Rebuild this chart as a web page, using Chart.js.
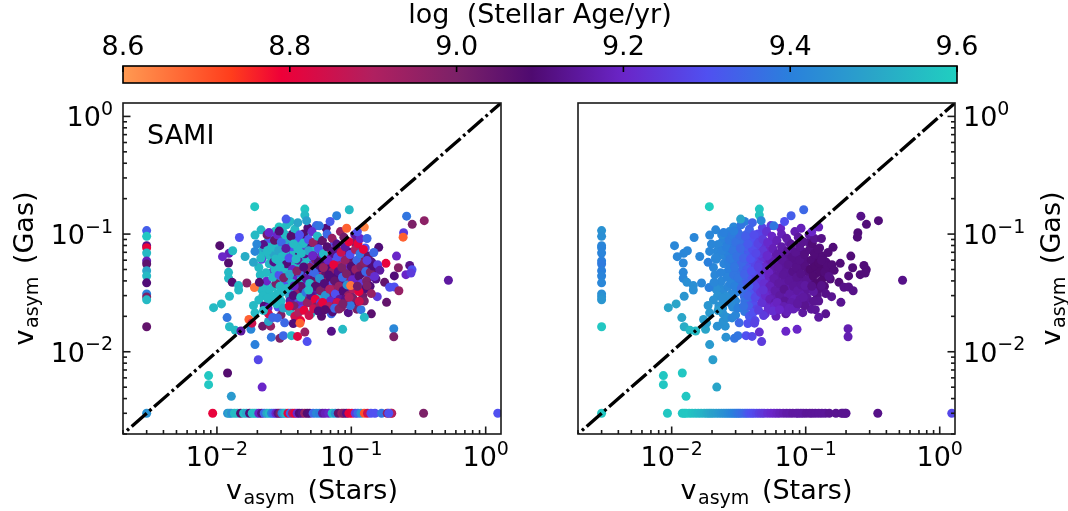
<!DOCTYPE html>
<html>
<head>
<meta charset="utf-8">
<title>vasym stars vs gas</title>
<script src="https://cdn.jsdelivr.net/npm/chart.js@4"></script>
<style>
html, body { margin: 0; padding: 0; background: #fff; }
canvas { position: absolute; }
</style>
</head>
<body>
<canvas id="cbar" width="1068" height="95" style="left:0;top:0"></canvas>
<canvas id="panel_a" width="534" height="421" style="left:0;top:90px"></canvas>
<canvas id="panel_b" width="534" height="421" style="left:534px;top:90px"></canvas>
<script>
// galaxies with no measured stellar asymmetry (left column)
var columnStars = [0.003, 0.003, 0.003, 0.003, 0.003, 0.003, 0.003, 0.003, 0.003, 0.003, 0.003, 0.003, 0.003, 0.003, 0.003];
var columnGas = [0.107, 0.0957, 0.0796, 0.0766, 0.069, 0.059, 0.0557, 0.0489, 0.044, 0.0385, 0.031, 0.0292, 0.0276, 0.0163, 0.003];
var columnAgeObs = [9.33, 9.58, 9.12, 8.8, 9.55, 9.18, 9.06, 9.5, 9.55, 9.1, 9.4, 9.0, 9.55, 9.05, 9.45];
var columnAgeFit = [9.45, 9.44, 9.42, 9.41, 9.41, 9.4, 9.39, 9.4, 9.41, 9.42, 9.44, 9.45, 9.46, 9.58, 9.58];

// dense middle of the cloud
var coreStars = [
    0.0218, 0.0228, 0.0243, 0.0252, 0.0258, 0.0263, 0.0272, 0.0278, 0.0284, 0.0291,
    0.0297, 0.0302, 0.0308, 0.0312, 0.0318, 0.0323, 0.0329, 0.0335, 0.0341, 0.0347,
    0.0352, 0.0358, 0.0363, 0.0369, 0.0374, 0.0379, 0.0385, 0.0391, 0.0396, 0.0403,
    0.0408, 0.0414, 0.0421, 0.0426, 0.0433, 0.0439, 0.0446, 0.0452, 0.0458, 0.0464,
    0.0471, 0.0478, 0.0484, 0.0491, 0.0497, 0.0505, 0.0512, 0.0519, 0.0527, 0.0534,
    0.0542, 0.0551, 0.0558, 0.0567, 0.0574, 0.0582, 0.0591, 0.0602, 0.0609, 0.0618,
    0.0627, 0.0635, 0.0644, 0.0652, 0.0664, 0.0672, 0.0684, 0.0695, 0.0706, 0.0715,
    0.0728, 0.0742, 0.0756, 0.0769, 0.0782, 0.0797, 0.0812, 0.0826, 0.0841, 0.0858,
    0.0872, 0.0889, 0.0905, 0.0922, 0.0941, 0.0958, 0.0976, 0.0992, 0.101, 0.1035,
    0.106, 0.108, 0.111, 0.113, 0.115, 0.119, 0.121, 0.124, 0.127, 0.133,
    0.136, 0.142, 0.148, 0.075, 0.065, 0.055, 0.035, 0.031, 0.027, 0.048
];
var coreGas = [
    0.0715, 0.0375, 0.0332, 0.0645, 0.0473, 0.0358, 0.0295, 0.0842, 0.0538, 0.0668,
    0.0412, 0.0318, 0.0775, 0.0592, 0.0475, 0.0381, 0.0923, 0.0685, 0.0508, 0.0298,
    0.0872, 0.0562, 0.0435, 0.0343, 0.0705, 0.0266, 0.0528, 0.0408, 0.0318, 0.0865,
    0.0655, 0.0252, 0.0532, 0.0415, 0.0762, 0.0338, 0.0612, 0.0476, 0.0905, 0.0285,
    0.0382, 0.0628, 0.0448, 0.0795, 0.0345, 0.0258, 0.0548, 0.0412, 0.0722, 0.0318,
    0.0605, 0.0462, 0.0372, 0.0845, 0.0285, 0.0518, 0.0392, 0.0675, 0.0438, 0.0328,
    0.0582, 0.0258, 0.0458, 0.0352, 0.0702, 0.0525, 0.0295, 0.0412, 0.0625, 0.0368,
    0.0478, 0.0268, 0.0582, 0.0352, 0.0438, 0.0718, 0.0305, 0.0562, 0.0392, 0.0632,
    0.0468, 0.0278, 0.0352, 0.0538, 0.0422, 0.0705, 0.0318, 0.0602, 0.0382, 0.0478,
    0.0852, 0.0342, 0.0425, 0.0725, 0.0572, 0.0462, 0.0655, 0.0348, 0.0762, 0.0502,
    0.0428, 0.0578, 0.0488, 0.0845, 0.112, 0.118, 0.128, 0.092, 0.105, 0.102
];
var coreAgeObs = [
    9.55, 9.55, 9.55, 9.55, 9.2, 9.55, 9.5, 9.55, 9.55, 9.15,
    9.5, 9.55, 9.55, 9.55, 9.55, 9.3, 9.55, 9.2, 9.55, 9.5,
    9.55, 9.5, 9.12, 9.55, 9.55, 9.3, 9.55, 9.2, 8.95, 9.55,
    9.1, 9.2, 9.55, 9.55, 9.25, 9.12, 9.5, 9.1, 9.55, 9.0,
    9.2, 9.55, 9.3, 9.12, 9.1, 8.85, 9.25, 9.05, 9.55, 9.15,
    9.0, 9.3, 8.95, 9.1, 9.55, 9.1, 9.12, 9.2, 8.9, 9.05,
    9.12, 9.35, 9.05, 9.12, 8.85, 9.1, 9.0, 9.08, 9.12, 9.3,
    8.95, 9.12, 9.35, 8.95, 9.1, 9.05, 9.1, 8.9, 9.12, 9.25,
    9.0, 9.05, 9.1, 9.2, 8.95, 9.1, 9.15, 9.05, 8.95, 9.1,
    9.0, 9.12, 9.2, 9.1, 9.02, 9.1, 9.0, 9.1, 9.3, 9.1,
    9.25, 9.12, 9.08, 9.3, 9.1, 9.35, 9.55, 9.55, 9.55, 9.55
];
var coreAgeFit = [
    9.42, 9.43, 9.43, 9.41, 9.41, 9.42, 9.43, 9.39, 9.39, 9.38,
    9.39, 9.4, 9.37, 9.37, 9.37, 9.37, 9.36, 9.35, 9.35, 9.36,
    9.34, 9.34, 9.33, 9.34, 9.32, 9.34, 9.31, 9.31, 9.31, 9.3,
    9.29, 9.29, 9.28, 9.27, 9.27, 9.26, 9.26, 9.25, 9.26, 9.24,
    9.23, 9.23, 9.22, 9.23, 9.21, 9.21, 9.2, 9.19, 9.2, 9.19,
    9.18, 9.17, 9.17, 9.19, 9.17, 9.16, 9.16, 9.16, 9.15, 9.15,
    9.15, 9.17, 9.15, 9.16, 9.15, 9.14, 9.17, 9.15, 9.13, 9.15,
    9.14, 9.18, 9.13, 9.16, 9.14, 9.14, 9.17, 9.12, 9.14, 9.12,
    9.12, 9.17, 9.15, 9.11, 9.13, 9.12, 9.15, 9.11, 9.14, 9.11,
    9.12, 9.14, 9.11, 9.1, 9.09, 9.1, 9.1, 9.12, 9.11, 9.09,
    9.09, 9.1, 9.1, 9.16, 9.2, 9.25, 9.4, 9.38, 9.42, 9.26
];

// rest of the cloud
var cloudStars = [
    0.0205, 0.021, 0.0215, 0.022, 0.0225, 0.023, 0.0235, 0.024, 0.0245, 0.025,
    0.0205, 0.0225, 0.024, 0.0215, 0.0232, 0.0255, 0.026, 0.0265, 0.027, 0.0275,
    0.028, 0.0285, 0.026, 0.029, 0.0295, 0.0265, 0.027, 0.028, 0.0285, 0.029,
    0.0295, 0.03, 0.03, 0.031, 0.032, 0.032, 0.033, 0.034, 0.034, 0.035,
    0.035, 0.036, 0.036, 0.036, 0.0365, 0.0365, 0.037, 0.0375, 0.038, 0.033,
    0.038, 0.039, 0.04, 0.04, 0.041, 0.042, 0.042, 0.043, 0.044, 0.044,
    0.045, 0.045, 0.046, 0.046, 0.047, 0.0475, 0.048, 0.048, 0.049, 0.049,
    0.05, 0.05, 0.04, 0.051, 0.052, 0.052, 0.053, 0.054, 0.054, 0.055,
    0.056, 0.057, 0.057, 0.058, 0.059, 0.059, 0.06, 0.061, 0.062, 0.062,
    0.063, 0.064, 0.065, 0.066, 0.066, 0.067, 0.068, 0.069, 0.07, 0.071,
    0.072, 0.073, 0.074, 0.075, 0.076, 0.077, 0.078, 0.079, 0.08, 0.081,
    0.082, 0.083, 0.084, 0.085, 0.086, 0.087, 0.088, 0.09, 0.09, 0.092,
    0.093, 0.095, 0.096, 0.098, 0.1, 0.102, 0.103, 0.104, 0.106, 0.107,
    0.108, 0.11, 0.112, 0.114, 0.116, 0.118, 0.12, 0.122, 0.125, 0.128,
    0.13, 0.134, 0.138, 0.125, 0.11, 0.095, 0.118
];
var cloudGas = [
    0.052, 0.045, 0.034, 0.03, 0.076, 0.066, 0.04, 0.087, 0.056, 0.027,
    0.0275, 0.0245, 0.0235, 0.061, 0.047, 0.1, 0.082, 0.068, 0.05, 0.038,
    0.031, 0.024, 0.043, 0.115, 0.09, 0.058, 0.094, 0.075, 0.06, 0.045,
    0.036, 0.027, 0.0205, 0.105, 0.085, 0.07, 0.056, 0.042, 0.034, 0.027,
    0.022, 0.099, 0.078, 0.063, 0.05, 0.038, 0.03, 0.0245, 0.02, 0.12,
    0.11, 0.092, 0.075, 0.06, 0.047, 0.036, 0.029, 0.023, 0.1, 0.083,
    0.068, 0.055, 0.042, 0.032, 0.026, 0.113, 0.09, 0.072, 0.052, 0.038,
    0.03, 0.021, 0.125, 0.105, 0.085, 0.065, 0.047, 0.036, 0.028, 0.024,
    0.096, 0.075, 0.058, 0.042, 0.033, 0.026, 0.02, 0.088, 0.068, 0.052,
    0.038, 0.03, 0.024, 0.1, 0.078, 0.06, 0.045, 0.034, 0.027, 0.021,
    0.092, 0.072, 0.055, 0.04, 0.031, 0.025, 0.082, 0.064, 0.048, 0.036,
    0.028, 0.105, 0.07, 0.052, 0.043, 0.033, 0.094, 0.078, 0.06, 0.046,
    0.037, 0.03, 0.086, 0.067, 0.053, 0.041, 0.034, 0.027, 0.099, 0.074,
    0.05, 0.06, 0.083, 0.044, 0.068, 0.053, 0.038, 0.03, 0.057, 0.048,
    0.04, 0.065, 0.036, 0.027, 0.023, 0.0215, 0.0228
];
var cloudAgeObs = [
    9.55, 9.55, 9.55, 9.55, 9.5, 9.55, 9.2, 9.55, 9.55, 9.55,
    9.55, 9.1, 9.2, 9.25, 9.55, 9.55, 9.55, 9.5, 9.55, 9.0,
    9.55, 9.3, 9.55, 9.58, 8.95, 9.12, 9.45, 9.55, 9.55, 9.3,
    9.55, 9.55, 9.0, 9.55, 9.5, 9.55, 9.1, 9.5, 9.4, 9.15,
    9.55, 9.1, 9.3, 9.55, 9.2, 9.55, 9.1, 9.0, 8.85, 9.55,
    9.55, 9.3, 9.55, 9.15, 9.35, 9.05, 9.55, 9.25, 9.08, 9.55,
    9.12, 9.55, 9.15, 9.38, 8.95, 9.1, 9.3, 9.5, 8.98, 9.55,
    9.12, 9.55, 9.5, 9.22, 8.95, 9.12, 9.35, 9.08, 8.8, 9.0,
    9.55, 9.3, 9.1, 9.45, 9.0, 9.25, 9.08, 9.05, 9.55, 8.95,
    9.1, 9.45, 9.55, 9.35, 9.08, 9.2, 9.1, 8.9, 9.2, 9.35,
    8.95, 9.12, 8.8, 9.05, 9.3, 9.0, 9.12, 9.3, 9.12, 8.95,
    9.15, 8.95, 8.85, 9.0, 9.35, 9.1, 9.02, 9.15, 8.95, 9.0,
    9.45, 8.95, 8.8, 9.3, 9.08, 9.2, 8.9, 9.05, 9.15, 8.9,
    8.95, 9.35, 8.8, 9.08, 9.38, 9.0, 9.25, 9.02, 8.98, 9.35,
    9.0, 9.05, 9.1, 9.0, 9.0, 9.12, 9.38
];
var cloudAgeFit = [
    9.42, 9.42, 9.44, 9.45, 9.42, 9.42, 9.42, 9.42, 9.41, 9.44,
    9.45, 9.45, 9.45, 9.42, 9.41, 9.4, 9.4, 9.4, 9.4, 9.41,
    9.42, 9.43, 9.41, 9.42, 9.38, 9.4, 9.4, 9.38, 9.38, 9.38,
    9.4, 9.42, 9.42, 9.37, 9.36, 9.36, 9.35, 9.35, 9.36, 9.37,
    9.38, 9.34, 9.33, 9.33, 9.33, 9.33, 9.34, 9.33, 9.32, 9.38,
    9.34, 9.3, 9.29, 9.28, 9.28, 9.27, 9.28, 9.27, 9.28, 9.27,
    9.25, 9.25, 9.24, 9.24, 9.23, 9.27, 9.25, 9.24, 9.22, 9.22,
    9.21, 9.22, 9.34, 9.23, 9.21, 9.2, 9.19, 9.18, 9.18, 9.19,
    9.2, 9.18, 9.17, 9.16, 9.16, 9.16, 9.18, 9.18, 9.16, 9.15,
    9.15, 9.15, 9.15, 9.18, 9.16, 9.14, 9.14, 9.13, 9.14, 9.15,
    9.16, 9.14, 9.13, 9.14, 9.16, 9.17, 9.14, 9.12, 9.12, 9.14,
    9.17, 9.17, 9.13, 9.12, 9.13, 9.15, 9.15, 9.13, 9.12, 9.12,
    9.14, 9.16, 9.13, 9.11, 9.11, 9.13, 9.14, 9.16, 9.15, 9.11,
    9.09, 9.1, 9.1, 9.09, 9.1, 9.09, 9.09, 9.12, 9.09, 9.09,
    9.09, 9.1, 9.1, 9.13, 9.14, 9.15, 9.14
];

// more of the cloud: the left side and the underside
var fillStars = [
    0.0212, 0.0222, 0.0238, 0.0248, 0.0256, 0.0268, 0.0274, 0.0282, 0.0288, 0.0294,
    0.0301, 0.0306, 0.0314, 0.0322, 0.0326, 0.0331, 0.0344, 0.0349, 0.0356, 0.0372,
    0.0376, 0.0388, 0.0394, 0.0412, 0.0425, 0.0442, 0.0482, 0.0515, 0.0255, 0.0238,
    0.0278, 0.0312, 0.0345, 0.0405, 0.0445, 0.0525, 0.0585, 0.0612, 0.0685, 0.0725,
    0.0785, 0.0845, 0.0905, 0.1025, 0.1145, 0.1285, 0.1385, 0.1455, 0.1525, 0.1165
];
var fillGas = [
    0.0625, 0.0815, 0.0725, 0.0915, 0.0775, 0.0885, 0.0615, 0.0985, 0.0725, 0.0525,
    0.0855, 0.0645, 0.0425, 0.0985, 0.0755, 0.0345, 0.0625, 0.0455, 0.0955, 0.0825,
    0.0362, 0.0615, 0.0485, 0.0985, 0.0685, 0.0525, 0.0335, 0.0655, 0.0295, 0.0285,
    0.0255, 0.0235, 0.0245, 0.0215, 0.0225, 0.0232, 0.0245, 0.0262, 0.0242, 0.0218,
    0.0262, 0.0238, 0.0278, 0.0288, 0.0268, 0.0345, 0.0475, 0.0535, 0.0415, 0.0915
];
var fillAgeObs = [
    9.55, 9.12, 9.55, 9.3, 9.55, 9.05, 9.55, 9.2, 9.5, 9.55,
    9.35, 9.55, 9.0, 9.55, 9.15, 9.55, 9.3, 9.5, 9.08, 9.55,
    9.2, 9.55, 8.98, 9.3, 9.55, 9.1, 9.55, 9.2, 9.55, 9.55,
    9.55, 9.5, 8.8, 8.9, 8.8, 8.85, 8.95, 8.8, 8.9, 9.1,
    8.85, 9.0, 9.12, 9.0, 8.85, 9.1, 9.0, 9.1, 9.12, 9.2
];
var fillAgeFit = [
    9.42, 9.42, 9.41, 9.41, 9.4, 9.39, 9.39, 9.39, 9.38, 9.38,
    9.37, 9.37, 9.38, 9.36, 9.35, 9.36, 9.34, 9.34, 9.33, 9.32,
    9.33, 9.3, 9.3, 9.29, 9.28, 9.26, 9.23, 9.21, 9.44, 9.44,
    9.43, 9.4, 9.37, 9.3, 9.26, 9.22, 9.2, 9.19, 9.17, 9.18,
    9.16, 9.17, 9.15, 9.14, 9.13, 9.11, 9.1, 9.1, 9.1, 9.13
];

// sparse points around the cloud
var outerStars = [
    0.0191, 0.0327, 0.0451, 0.0451, 0.0465, 0.0147, 0.0105, 0.0123, 0.0131, 0.011,
    0.0122, 0.0122, 0.0122, 0.013, 0.0145, 0.0145, 0.0124, 0.0108, 0.00944, 0.0119,
    0.0124, 0.0137, 0.0151, 0.0179, 0.0192, 0.0173, 0.0182, 0.019, 0.0162, 0.0187,
    0.0192, 0.0198, 0.0192, 0.0213, 0.0236, 0.0244, 0.0291, 0.0167, 0.0207, 0.0254,
    0.0294, 0.0312, 0.0359, 0.0398, 0.0451, 0.0469, 0.0319, 0.037, 0.0419, 0.0415,
    0.0485, 0.0569, 0.0638, 0.0752, 0.0809, 0.0944, 0.0984, 0.0867, 0.0962, 0.0219,
    0.0251, 0.0242, 0.0242, 0.026, 0.0282, 0.0192, 0.0222, 0.0187, 0.0778, 0.0966,
    0.0695, 0.0579, 0.258, 0.284, 0.349, 0.245, 0.243, 0.0923, 0.125, 0.111,
    0.131, 0.16, 0.123, 0.147, 0.217, 0.181, 0.131, 0.157, 0.224, 0.272,
    0.283, 0.255, 0.278, 0.209, 0.163, 0.149, 0.528, 0.177, 0.193, 0.209,
    0.226, 0.156, 0.183, 0.141, 0.114, 0.0989, 0.111, 0.131, 0.141, 0.125,
    0.207, 0.207, 0.0862, 0.0711
];
var outerGas = [
    0.171, 0.134, 0.163, 0.145, 0.13, 0.0935, 0.0797, 0.0686, 0.0721, 0.0643,
    0.0568, 0.0473, 0.0421, 0.0389, 0.0365, 0.0335, 0.0296, 0.0255, 0.0237, 0.0195,
    0.0163, 0.0152, 0.015, 0.0155, 0.0115, 0.0188, 0.0175, 0.0351, 0.0645, 0.0575,
    0.0712, 0.0822, 0.098, 0.1086, 0.0986, 0.103, 0.106, 0.0384, 0.0389, 0.0133,
    0.013, 0.0137, 0.0137, 0.0135, 0.0147, 0.0122, 0.0176, 0.0174, 0.0184, 0.0175,
    0.0203, 0.0222, 0.0228, 0.0234, 0.0231, 0.0255, 0.0247, 0.0256, 0.029, 0.0165,
    0.0165, 0.0181, 0.021, 0.0195, 0.0194, 0.0214, 0.0224, 0.0247, 0.143, 0.161,
    0.128, 0.1175, 0.142, 0.121, 0.13, 0.1026, 0.0942, 0.112, 0.1146, 0.1045,
    0.0918, 0.0771, 0.0741, 0.0698, 0.065, 0.0564, 0.0597, 0.055, 0.0518, 0.0542,
    0.0498, 0.0452, 0.0467, 0.0441, 0.0492, 0.0437, 0.0405, 0.0389, 0.0353, 0.0355,
    0.033, 0.0294, 0.0263, 0.0312, 0.0324, 0.0365, 0.036, 0.0365, 0.021, 0.0196,
    0.0157, 0.0134, 0.0155, 0.0149
];
var outerAgeObs = [
    9.58, 9.32, 9.58, 9.55, 9.48, 9.3, 9.08, 9.18, 9.55, 9.2,
    9.08, 9.55, 9.55, 9.08, 9.55, 9.55, 9.55, 9.55, 9.55, 9.38,
    9.55, 9.55, 9.15, 9.42, 9.4, 8.68, 8.85, 8.65, 9.52, 9.5,
    9.42, 9.42, 9.55, 9.55, 9.02, 9.2, 9.1, 8.98, 9.08, 9.38,
    9.0, 9.35, 9.55, 8.82, 8.95, 9.3, 9.35, 9.1, 8.8, 8.68,
    8.85, 9.1, 9.08, 9.35, 8.98, 8.98, 9.38, 9.0, 8.9, 9.03,
    8.95, 9.5, 8.85, 9.35, 9.35, 9.55, 9.55, 9.55, 9.4, 9.55,
    9.32, 9.38, 9.38, 9.0, 8.97, 9.25, 8.68, 8.68, 8.63, 9.3,
    9.35, 9.1, 8.8, 9.35, 9.2, 8.8, 9.26, 9.26, 8.98, 9.12,
    9.3, 9.2, 9.25, 9.1, 9.15, 9.22, 9.15, 9.05, 9.3, 9.3,
    8.95, 9.25, 9.05, 8.95, 8.8, 8.65, 9.02, 9.0, 9.07, 9.55,
    9.42, 9.0, 9.55, 9.12
];
var outerAgeFit = [
    9.6, 9.5, 9.58, 9.57, 9.42, 9.42, 9.42, 9.42, 9.42, 9.42,
    9.42, 9.42, 9.42, 9.44, 9.44, 9.44, 9.46, 9.5, 9.5, 9.5,
    9.52, 9.55, 9.55, 9.5, 9.47, 9.48, 9.48, 9.4, 9.42, 9.4,
    9.42, 9.42, 9.42, 9.42, 9.42, 9.4, 9.4, 9.42, 9.42, 9.45,
    9.38, 9.38, 9.3, 9.28, 9.22, 9.25, 9.35, 9.3, 9.28, 9.27,
    9.25, 9.22, 9.2, 9.18, 9.18, 9.15, 9.13, 9.15, 9.15, 9.45,
    9.45, 9.45, 9.45, 9.45, 9.42, 9.47, 9.47, 9.46, 9.33, 9.35,
    9.3, 9.38, 9.12, 9.1, 9.1, 9.1, 9.1, 9.18, 9.18, 9.2,
    9.12, 9.1, 9.1, 9.1, 9.1, 9.1, 9.1, 9.1, 9.1, 9.1,
    9.1, 9.1, 9.1, 9.1, 9.1, 9.12, 9.12, 9.1, 9.12, 9.12,
    9.12, 9.13, 9.13, 9.12, 9.15, 9.15, 9.12, 9.12, 9.13, 9.15,
    9.17, 9.17, 9.2, 9.2
];

// low outliers above the bottom row
var lowStars = [0.0203, 0.012, 0.00867, 0.00867, 0.0217, 0.0128];
var lowGas = [0.00855, 0.0066, 0.00627, 0.00525, 0.00501, 0.00418];
var lowAgeObs = [9.28, 9.08, 9.58, 9.58, 9.2, 9.47];
var lowAgeFit = [9.48, 9.58, 9.58, 9.58, 9.5, 9.58];

// galaxies with no measured gas asymmetry (bottom row)
var rowStars = [
    0.0093, 0.012, 0.0124, 0.0128, 0.0135, 0.0142, 0.015, 0.0158, 0.0166, 0.0175,
    0.0183, 0.019, 0.0197, 0.0205, 0.0215, 0.0225, 0.0235, 0.0245, 0.0255, 0.0265,
    0.0275, 0.0285, 0.0295, 0.0305, 0.0315, 0.0325, 0.0338, 0.0352, 0.0365, 0.038,
    0.0395, 0.041, 0.043, 0.045, 0.047, 0.049, 0.052, 0.055, 0.058, 0.061,
    0.064, 0.068, 0.072, 0.076, 0.08, 0.085, 0.088, 0.092, 0.096, 0.101,
    0.107, 0.112, 0.118, 0.125, 0.132, 0.14, 0.15, 0.168, 0.197, 0.2,
    0.185, 0.19, 0.345, 1.23
];
var rowGas = [
    0.003, 0.003, 0.003, 0.003, 0.003, 0.003, 0.003, 0.003, 0.003, 0.003,
    0.003, 0.003, 0.003, 0.003, 0.003, 0.003, 0.003, 0.003, 0.003, 0.003,
    0.003, 0.003, 0.003, 0.003, 0.003, 0.003, 0.003, 0.003, 0.003, 0.003,
    0.003, 0.003, 0.003, 0.003, 0.003, 0.003, 0.003, 0.003, 0.003, 0.003,
    0.003, 0.003, 0.003, 0.003, 0.003, 0.003, 0.003, 0.003, 0.003, 0.003,
    0.003, 0.003, 0.003, 0.003, 0.003, 0.003, 0.003, 0.003, 0.003, 0.003,
    0.003, 0.003, 0.003, 0.003
];
var rowAgeObs = [
    8.8, 9.45, 9.5, 9.45, 9.55, 9.55, 9.08, 9.55, 9.5, 9.1,
    9.55, 9.55, 9.55, 9.2, 9.12, 9.35, 9.5, 9.55, 9.4, 9.32,
    9.2, 9.12, 9.0, 9.4, 9.5, 9.55, 8.8, 9.35, 8.9, 8.8,
    9.2, 9.1, 9.12, 8.95, 9.08, 9.1, 9.35, 9.42, 9.4, 9.15,
    9.18, 9.2, 9.55, 9.45, 9.05, 8.95, 9.0, 9.12, 8.8, 8.8,
    9.25, 9.35, 9.45, 8.7, 8.85, 9.3, 9.3, 9.38, 8.7, 8.9,
    8.95, 9.3, 9.0, 9.3
];
var rowAgeFit = [
    9.58, 9.58, 9.58, 9.58, 9.58, 9.57, 9.56, 9.55, 9.54, 9.53,
    9.52, 9.51, 9.5, 9.49, 9.48, 9.47, 9.46, 9.45, 9.44, 9.43,
    9.42, 9.41, 9.4, 9.39, 9.38, 9.37, 9.36, 9.35, 9.33, 9.31,
    9.3, 9.29, 9.28, 9.26, 9.25, 9.24, 9.22, 9.21, 9.2, 9.19,
    9.18, 9.17, 9.16, 9.16, 9.15, 9.15, 9.15, 9.15, 9.15, 9.14,
    9.14, 9.14, 9.14, 9.14, 9.14, 9.14, 9.13, 9.13, 9.13, 9.13,
    9.13, 9.13, 9.12, 9.28
];

var unityLine = [0.002, 1.3];
var axisMin = 0.002;
var axisMax = 1.3;
var decades = [0.01, 0.1, 1];
var decadeExps = ['\u22122', '\u22121', '0'];
var minorMultiples = [2, 3, 4, 5, 6, 7, 8, 9];
var minorBases = [0.001, 0.01, 0.1, 1];

var ageTicks = [8.6, 8.8, 9.0, 9.2, 9.4, 9.6];
var ageStops = [8.6, 8.73, 8.79, 8.9, 9.0, 9.09, 9.2, 9.3, 9.4, 9.5, 9.6];
var ageColors = ['#ff9a52', '#ff3d1c', '#ee0038', '#b02060', '#7c2168', '#4f0a70', '#6a25c8', '#5050f0', '#2a80dc', '#2aa5c8', '#20cfc0'];

Chart.defaults.font.family = '"DejaVu Sans"';
Chart.defaults.color = '#000';

function hexRgb(h) {
    return [parseInt(h.substr(1, 2), 16), parseInt(h.substr(3, 2), 16), parseInt(h.substr(5, 2), 16)];
}

function ageColor(a) {
    for (var i = 1; i < ageStops.length; i++) {
        if (a <= ageStops[i]) {
            var t = (a - ageStops[i - 1]) / (ageStops[i] - ageStops[i - 1]);
            var c0 = hexRgb(ageColors[i - 1]), c1 = hexRgb(ageColors[i]);
            return 'rgb(' + [0, 1, 2].map(function (k) { return Math.round(c0[k] + (c1[k] - c0[k]) * t); }).join(',') + ')';
        }
    }
    return ageColors[ageColors.length - 1];
}

var allStars = columnStars.concat(coreStars, cloudStars, fillStars, outerStars, lowStars, rowStars);
var allGas = columnGas.concat(coreGas, cloudGas, fillGas, outerGas, lowGas, rowGas);
var allAgeObs = columnAgeObs.concat(coreAgeObs, cloudAgeObs, fillAgeObs, outerAgeObs, lowAgeObs, rowAgeObs);
var allAgeFit = columnAgeFit.concat(coreAgeFit, cloudAgeFit, fillAgeFit, outerAgeFit, lowAgeFit, rowAgeFit);
var points = allStars.map(function (s, i) { return { x: s, y: allGas[i] }; });

// v + small "asym" + rest, since chart.js titles have no subscripts
function drawVasym(ctx, rest, x, y, angle) {
    ctx.save();
    ctx.translate(x, y);
    ctx.rotate(angle);
    ctx.fillStyle = '#000';
    ctx.textAlign = 'left';
    ctx.textBaseline = 'alphabetic';
    var big = '27px "DejaVu Sans"', small = '19px "DejaVu Sans"';
    ctx.font = big;
    var w1 = ctx.measureText('v').width + 1.5, w3 = ctx.measureText(rest).width;
    ctx.font = small;
    var w2 = ctx.measureText('asym').width + 4;
    var left = -(w1 + w2 + w3) / 2;
    ctx.font = big;
    ctx.fillText('v', left, 0);
    ctx.font = small;
    ctx.fillText('asym', left + w1, 5);
    ctx.font = big;
    ctx.fillText(rest, left + w1 + w2, 0);
    ctx.restore();
}

// 10 with a raised exponent, x is the left or right end or middle per align
function drawPower(ctx, exp, x, y, align) {
    var big = '27px "DejaVu Sans"', small = '19px "DejaVu Sans"';
    ctx.font = big;
    var w1 = ctx.measureText('10').width;
    ctx.font = small;
    var w2 = ctx.measureText(exp).width;
    var left = align === 'left' ? x : align === 'right' ? x - w1 - w2 : x - (w1 + w2) / 2;
    ctx.fillStyle = '#000';
    ctx.textAlign = 'left';
    ctx.textBaseline = 'alphabetic';
    ctx.font = big;
    ctx.fillText('10', left, y);
    ctx.font = small;
    ctx.fillText(exp, left + w1, y - 11.5);
}

function tickLine(ctx, x0, y0, x1, y1) {
    ctx.beginPath();
    ctx.moveTo(x0, y0);
    ctx.lineTo(x1, y1);
    ctx.stroke();
}

function panelPlugin(yOnRight, label, yTitleX) {
    return {
        id: 'panelFrame',
        afterDatasetsDraw: function (chart) {
            var ctx = chart.ctx, a = chart.chartArea;
            var sx = chart.scales.x, sy = chart.scales.y;
            ctx.save();
            ctx.strokeStyle = '#1a1a1a';
            ctx.lineWidth = 1.6;
            var yEdge = yOnRight ? a.right : a.left;
            var dir = yOnRight ? -1 : 1;
            minorBases.forEach(function (b) {
                minorMultiples.concat([1]).forEach(function (m) {
                    var v = b * m;
                    if (v < axisMin || v > axisMax) return;
                    var len = m === 1 ? 7.5 : 4;
                    var px = sx.getPixelForValue(v), py = sy.getPixelForValue(v);
                    tickLine(ctx, px, a.bottom, px, a.bottom - len);
                    tickLine(ctx, yEdge, py, yEdge + dir * len, py);
                });
            });
            ctx.strokeRect(a.left, a.top, a.right - a.left, a.bottom - a.top);
            decades.forEach(function (v, i) {
                drawPower(ctx, decadeExps[i], sx.getPixelForValue(v), a.bottom + 32, 'center');
                if (yOnRight) {
                    drawPower(ctx, decadeExps[i], a.right + 8, sy.getPixelForValue(v) + 10, 'left');
                } else {
                    drawPower(ctx, decadeExps[i], a.left - 10, sy.getPixelForValue(v) + 10, 'right');
                }
            });
            ctx.restore();
            if (label) {
                ctx.save();
                ctx.fillStyle = '#000';
                ctx.font = '27px "DejaVu Sans"';
                ctx.textAlign = 'left';
                ctx.fillText(label, a.left + 24, a.top + 41);
                ctx.restore();
            }
            drawVasym(ctx, ' (Stars)', (a.left + a.right) / 2, 409, 0);
            drawVasym(ctx, ' (Gas)', yTitleX, (a.top + a.bottom) / 2, -Math.PI / 2);
        }
    };
}

function logAxis(position, size) {
    var isX = position === 'bottom';
    return {
        type: 'logarithmic',
        position: position,
        min: axisMin,
        max: axisMax,
        grid: { display: false },
        border: { display: false },
        afterBuildTicks: function (scale) {
            scale.ticks = decades.map(function (v) { return { value: v }; });
        },
        afterFit: function (scale) {
            if (isX) { scale.height = size; } else { scale.width = size; }
            scale.paddingLeft = scale.paddingRight = scale.paddingTop = scale.paddingBottom = 0;
        },
        ticks: { display: false }
    };
}

function panelChart(id, ages, yPos, pad, yWidth, label, yTitleX) {
    var scales = { x: logAxis('bottom', 77) };
    scales.y = logAxis(yPos, yWidth);
    return new Chart(document.getElementById(id).getContext('2d'), {
        type: 'scatter',
        data: {
            datasets: [{
                data: unityLine.map(function (v) { return { x: v, y: v }; }),
                showLine: true,
                pointRadius: 0,
                borderColor: '#000',
                borderWidth: 3.3,
                borderDash: [20, 3.5, 2.8, 3.5],
                borderDashOffset: 18.3
            }, {
                data: points,
                pointRadius: 4.5,
                pointHoverRadius: 4.5,
                pointBorderWidth: 0,
                pointBackgroundColor: ages.map(ageColor)
            }]
        },
        options: {
            responsive: false,
            animation: false,
            layout: { padding: pad },
            plugins: { legend: { display: false }, tooltip: { enabled: false } },
            scales: scales
        },
        plugins: [panelPlugin(yPos === 'right', label, yTitleX)]
    });
}

panelChart('panel_a', allAgeObs, 'left', { left: 0, right: 33, top: 13, bottom: 0 }, 123, 'SAMI', 33);
panelChart('panel_b', allAgeFit, 'right', { left: 44, right: 0, top: 13, bottom: 0 }, 113, '', 526);

// colour bar: one floating bar filled with the colormap
new Chart(document.getElementById('cbar').getContext('2d'), {
    type: 'bar',
    data: {
        labels: ['age'],
        datasets: [{
            data: [[ageTicks[0], ageTicks[ageTicks.length - 1]]],
            barPercentage: 1,
            categoryPercentage: 1,
            backgroundColor: function (c) {
                var a = c.chart.chartArea;
                if (!a) return ageColors[0];
                var g = c.chart.ctx.createLinearGradient(a.left, 0, a.right, 0);
                ageStops.forEach(function (s, i) {
                    g.addColorStop((s - ageStops[0]) / (ageStops[ageStops.length - 1] - ageStops[0]), ageColors[i]);
                });
                return g;
            }
        }]
    },
    options: {
        indexAxis: 'y',
        responsive: false,
        animation: false,
        layout: { padding: { left: 123, right: 111, top: 0, bottom: 12 } },
        plugins: { legend: { display: false }, tooltip: { enabled: false } },
        scales: {
            y: { display: false },
            x: {
                position: 'top',
                min: 8.6,
                max: 9.6,
                grid: { display: false, drawTicks: false },
                border: { display: false },
                afterBuildTicks: function (scale) {
                    scale.ticks = ageTicks.map(function (v) { return { value: v }; });
                },
                afterFit: function (scale) {
                    scale.height = 66;
                    scale.paddingLeft = scale.paddingRight = 0;
                },
                title: { display: true, text: 'log  (Stellar Age/yr)', font: { size: 27 }, padding: { top: 0, bottom: 0 } },
                ticks: {
                    padding: 2,
                    maxRotation: 0,
                    autoSkip: false,
                    font: { size: 27 },
                    color: '#000',
                    callback: function (v) { return v.toFixed(1); }
                }
            }
        }
    },
    plugins: [{
        id: 'barFrame',
        afterDatasetsDraw: function (chart) {
            var ctx = chart.ctx, a = chart.chartArea, sx = chart.scales.x;
            ctx.save();
            ctx.strokeStyle = '#000';
            ctx.lineWidth = 1.6;
            ageTicks.forEach(function (v) {
                var px = sx.getPixelForValue(v);
                tickLine(ctx, px, a.top, px, a.top + 6);
            });
            ctx.strokeRect(a.left, a.top, a.right - a.left, a.bottom - a.top);
            ctx.restore();
        }
    }]
});
</script>
</body>
</html>
